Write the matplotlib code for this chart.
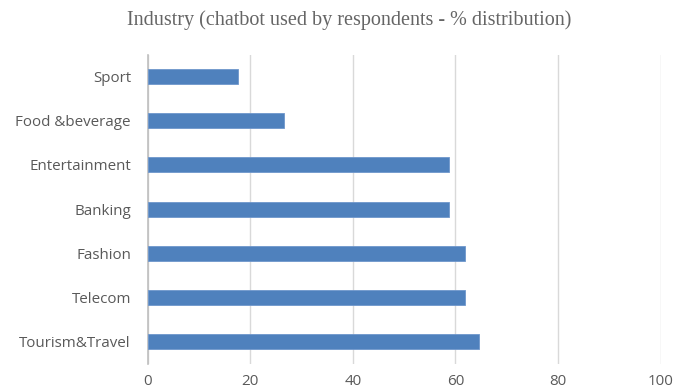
import matplotlib
matplotlib.use('Agg')
import matplotlib.pyplot as plt

# chatbot usage by industry (% of respondents)
industries = ['Tourism&Travel', 'Telecom', 'Fashion', 'Banking',
              'Entertainment', 'Food &beverage', 'Sport']
percent = [64.7, 61.8, 61.8, 58.8, 58.8, 26.5, 17.6]
xticks = [0, 20, 40, 60, 80, 100]

fig = plt.figure(figsize=(6.74, 3.91), dpi=100)
ax = fig.add_axes([0.219, 0.0696, 0.761, 0.791])

ax.barh(range(len(industries)), percent, height=0.34, color='#4f81bd',
        edgecolor='#6f97cc', linewidth=0.6, zorder=3)

ax.set_xlim(0, 100)
ax.set_ylim(-0.5, len(industries) - 0.5)
ax.set_xticks(xticks)
ax.set_yticks(range(len(industries)))
ax.set_yticklabels(industries)
ax.grid(axis='x', color='#d9d9d9', linewidth=1, zorder=0)

for s in ['top', 'right', 'bottom']:
    ax.spines[s].set_visible(False)
ax.spines['left'].set_color('#bfbfbf')
ax.spines['left'].set_linewidth(1.2)
ax.tick_params(axis='both', length=0, labelcolor='#595959', labelsize=10.9)
ax.tick_params(axis='y', pad=12)
ax.tick_params(axis='x', pad=7.5)
for lab in ax.get_xticklabels() + ax.get_yticklabels():
    lab.set_family('Open Sans')

fig.text(0.518, 0.948, 'Industry (chatbot used by respondents - % distribution)',
         ha='center', va='center', family='Liberation Serif', fontsize=14.5,
         color='#656565')

fig.savefig('out.png', dpi=100)
